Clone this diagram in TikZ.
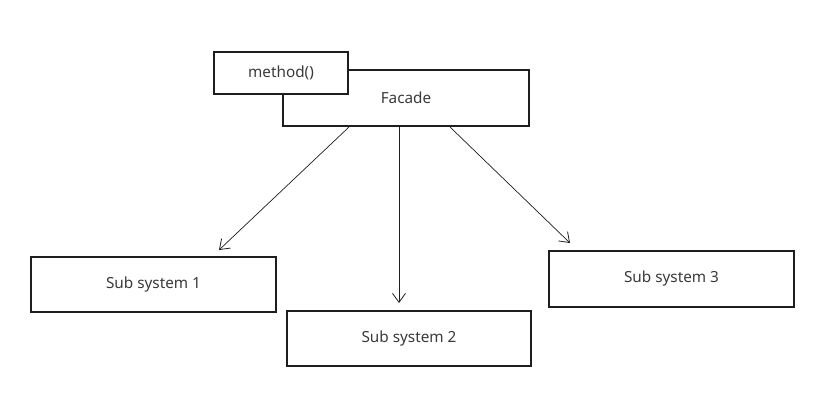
\documentclass[tikz,border=0pt]{standalone}
\usepackage{fontspec}
\setmainfont{Noto Sans}
\usetikzlibrary{arrows.meta}
\definecolor{ink}{HTML}{1E1E1E}
\definecolor{txt}{HTML}{3A3A3A}
\tikzset{
  box/.style={draw=ink, line width=1.3pt, fill=white, inner sep=0pt, text=txt, font=\fontsize{15.3}{17}\selectfont},
  conn/.style={draw=ink, line width=0.7pt, -{Straight Barb[length=9pt,width=13pt,line width=0.8pt]}}
}
\begin{document}
\begin{tikzpicture}[x=1pt,y=-1pt]
\useasboundingbox[fill=white] (0,0) rectangle (822,408);
\node[box, minimum width=246pt, minimum height=56pt] (facade) at (406,98) {Facade};
\node[box, minimum width=134pt, minimum height=42pt] (method) at (281,73) {method()};
\node[box, minimum width=245pt, minimum height=55pt] (s1) at (153.5,284.5) {Sub system 1};
\node[box, minimum width=244pt, minimum height=55pt] (s2) at (409,338.5) {Sub system 2};
\node[box, minimum width=245pt, minimum height=56pt] (s3) at (671.5,279) {Sub system 3};
\coordinate (a1) at (349,127);
\coordinate (a2) at (399,127);
\coordinate (a3) at (450,127);
\coordinate (e1) at (219,250);
\coordinate (e2) at (399,303);
\coordinate (e3) at (570,243);
\draw[conn] (a1) -- (e1);
\draw[conn] (a2) -- (e2);
\draw[conn] (a3) -- (e3);
\end{tikzpicture}
\end{document}
